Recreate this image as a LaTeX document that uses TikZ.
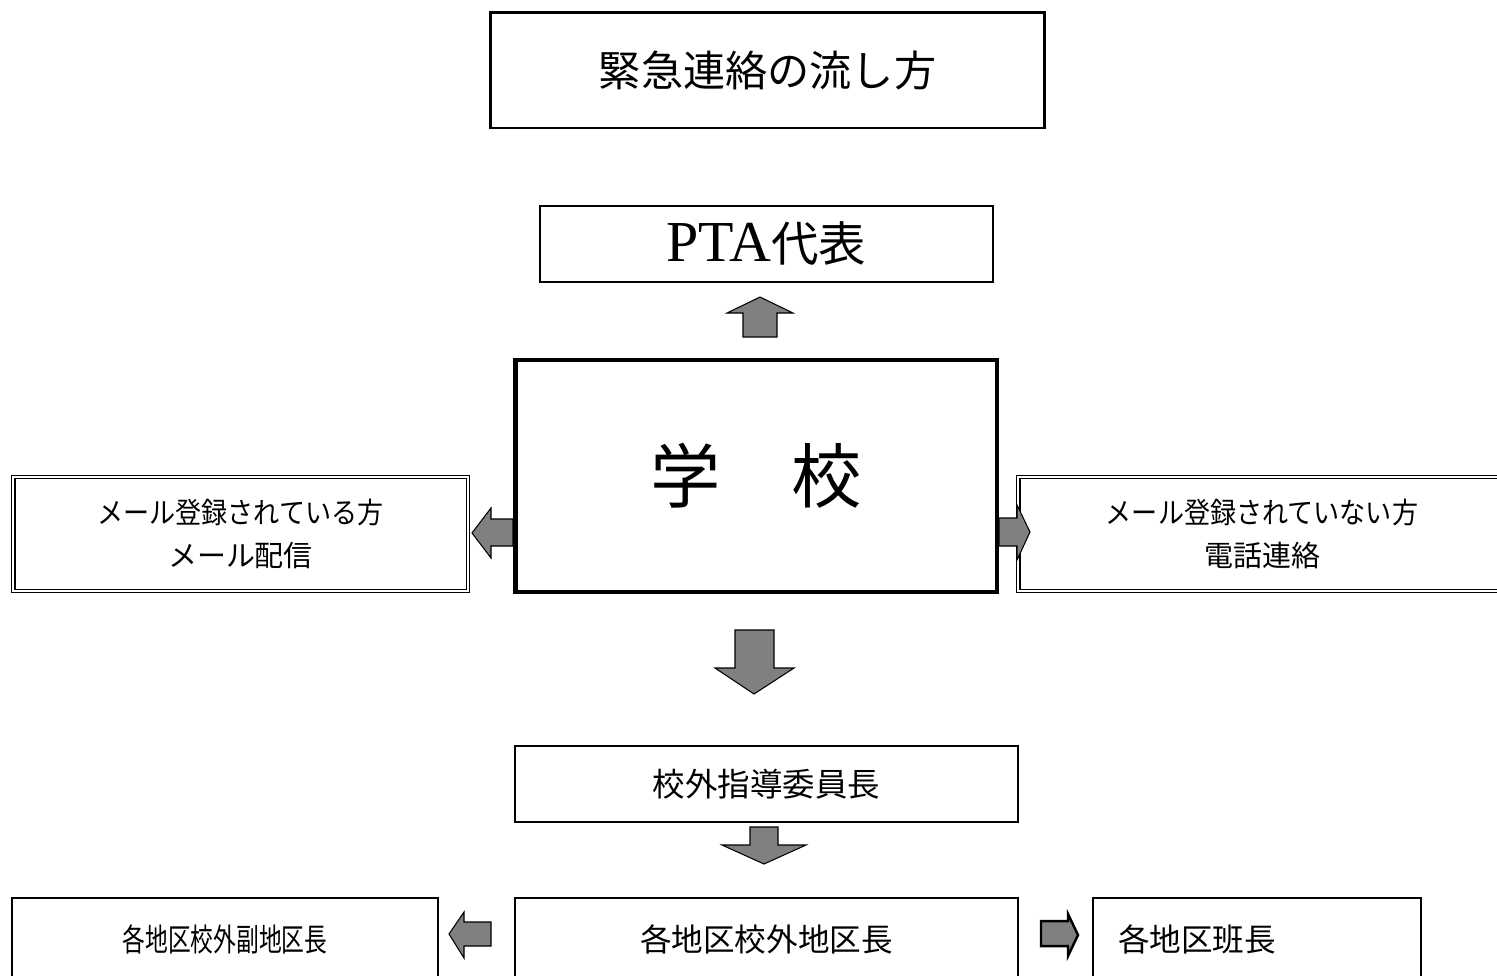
\documentclass[tikz,border=0pt]{standalone}
\usepackage{fontspec}
\setmainfont{Liberation Serif}
\newfontfamily\jp{Noto Sans CJK JP}
\usepackage{tikz}
\usetikzlibrary{positioning}
\definecolor{arrowgray}{rgb}{0.5, 0.5, 0.5}

\tikzset{
	box/.style={draw, line width=1.1pt, inner sep=0pt, align=center},
	dblbox/.style={draw, double, line width=0.8pt, double distance=1.2pt, inner sep=0pt, align=center},
	blockarrow/.style={draw, fill=arrowgray, line width=0.6pt, line join=miter}
}

\begin{document}
\begin{tikzpicture}[x=0.02cm, y=-0.02cm]
		\useasboundingbox (0,0) rectangle (1497,975);
		\node [box, line width=1.7pt, minimum width=11.1cm, minimum height=2.32cm,
			font=\jp\fontsize{24}{28}\selectfont] (title) at (767.5,70) {緊急連絡の流し方};
		\node [box, minimum width=9.06cm, minimum height=1.52cm] (pta) at (766.5,244)
			{\fontsize{33}{36}\selectfont PTA{\jp\fontsize{27}{30}\selectfont 代表}};
		\node [box, line width=2.8pt, minimum width=9.64cm, minimum height=4.64cm,
			font=\jp\fontsize{40}{44}\selectfont] (school) at (756,476) {学　校};
		\node [dblbox, minimum width=9.1cm, minimum height=2.28cm,
			font=\jp\fontsize{16.5}{24}\selectfont] (mailyes) at (240.5,534)
			{\scalebox{0.9}[1]{メール登録されている方}\\メール配信};
		\node [dblbox, minimum width=9.76cm, minimum height=2.28cm,
			font=\jp\fontsize{16.5}{24}\selectfont] (mailno) at (1262,534)
			{\scalebox{0.9}[1]{メール登録されていない方}\\電話連絡};
		\node [box, minimum width=10.06cm, minimum height=1.52cm,
			font=\jp\fontsize{18.5}{22}\selectfont] (chief) at (766.5,784) {校外指導委員長};
		\node [box, minimum width=10.06cm, minimum height=1.64cm,
			font=\jp\fontsize{18}{22}\selectfont] (leaders) at (766.5,939) {各地区校外地区長};
		\node [box, minimum width=8.52cm, minimum height=1.64cm,
			font=\jp\fontsize{18}{22}\selectfont] (subleaders) at (225,939) {\scalebox{0.72}[1]{各地区校外副地区長}};
		\node [box, minimum width=6.56cm, minimum height=1.64cm, inner xsep=0.5cm, text width=5.56cm, align=left,
			font=\jp\fontsize{18}{22}\selectfont] (groups) at (1257,939) {各地区班長};

		% block arrows between the boxes
		\draw [blockarrow] (760,297)--(793,313)--(777,313)--(777,337)--(743,337)--(743,313)--(727,313)--cycle;
		\draw [blockarrow] (472,533)--(491,508)--(491,519)--(513,519)--(513,546)--(491,546)--(491,558)--cycle;
		\draw [blockarrow] (999,518)--(1017,518)--(1017,505)--(1030,532)--(1017,560)--(1017,546)--(999,546)--cycle;
		\draw [blockarrow] (735,630)--(774,630)--(774,668)--(794,668)--(754,694)--(715,668)--(735,668)--cycle;
		\draw [blockarrow] (750,827)--(778,827)--(778,845)--(806,845)--(764,864)--(722,845)--(750,845)--cycle;
		\draw [blockarrow] (449,934)--(464,912)--(464,922)--(491,922)--(491,946)--(464,946)--(464,958)--cycle;
		\draw [blockarrow, line width=1.4pt] (1041,921)--(1068,921)--(1068,914)--(1078,935)--(1068,956)--(1068,946)--(1041,946)--cycle;
	\end{tikzpicture}
\end{document}
